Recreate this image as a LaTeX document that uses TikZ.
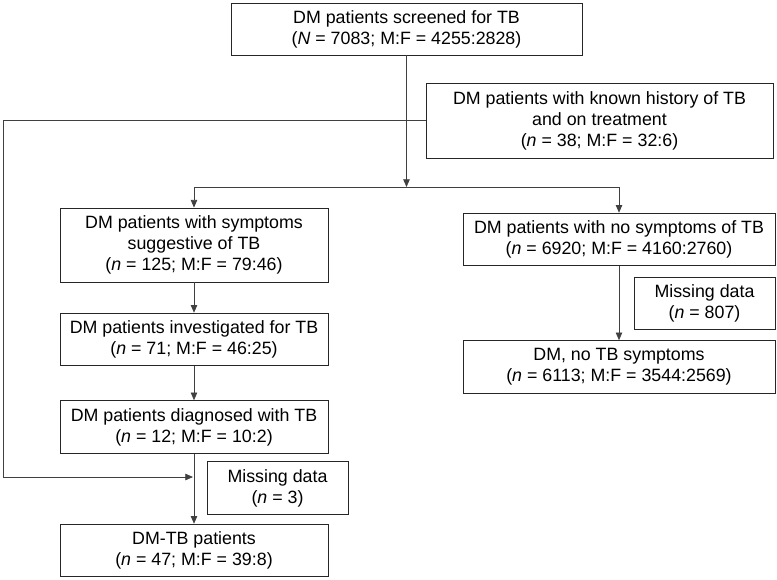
\documentclass[tikz,border=0pt]{standalone}
\usepackage{fontspec}
\setmainfont{Liberation Sans}
\usetikzlibrary{arrows.meta}

\begin{document}
\begin{tikzpicture}[
  x=0.03cm, y=-0.03cm,
  box/.style={rectangle, draw=black!85, line width=0.8pt, align=center,
              inner sep=0pt, minimum height=1.58cm,
              font=\fontsize{15.2pt}{17.9pt}\selectfont},
  wide/.style={box, minimum width=8.04cm},
  side/.style={box, minimum width=4.23cm},
  flow/.style={->, draw=black!75, line width=0.6pt},
  >={Triangle[length=6.5pt,width=5.5pt]}
]
  \useasboundingbox (0,0) rectangle (777,579);

  % Screening
  \node[box, minimum width=10.53cm, minimum height=1.56cm] (screen) at (406.5,29)
    {DM patients screened for TB\\(\textit{N} = 7083; M:F = 4255:2828)};
  \node[box, minimum width=10.41cm, minimum height=2.25cm] (known) at (599.5,120.5)
    {DM patients with known history of TB\\and on treatment\\(\textit{n} = 38; M:F = 32:6)};

  % Symptomatic branch
  \node[wide, minimum height=2.22cm] (sympt) at (194,245)
    {DM patients with symptoms\\suggestive of TB\\(\textit{n} = 125; M:F = 79:46)};
  \node[wide] (invest) at (194,339.5)
    {DM patients investigated for TB\\(\textit{n} = 71; M:F = 46:25)};
  \node[wide] (diag) at (194,427)
    {DM patients diagnosed with TB\\(\textit{n} = 12; M:F = 10:2)};
  \node[side] (missa) at (277.5,488) {Missing data\\(\textit{n} = 3)};
  \node[wide] (dmtb) at (194,550.5)
    {DM-TB patients\\(\textit{n} = 47; M:F = 39:8)};

  % No symptoms branch
  \node[box, minimum width=9.36cm] (nosym) at (619,239.5)
    {DM patients with no symptoms of TB\\(\textit{n} = 6920; M:F = 4160:2760)};
  \node[side] (missb) at (704.5,303.5) {Missing data\\(\textit{n} = 807)};
  \node[box, minimum width=9.36cm] (notb) at (619,367)
    {DM, no TB symptoms\\(\textit{n} = 6113; M:F = 3544:2569)};

  % Split
  \coordinate (split) at (406.5,187);
  \draw[flow] (screen) -- (split);
  \draw[flow] (split) -| (sympt.north);
  \draw[flow] (split) -| (nosym.north);

  % Downward arrows
  \draw[flow] (sympt) -- (invest);
  \draw[flow] (invest) -- (diag);
  \draw[flow] (diag) -- (dmtb);
  \draw[flow] (nosym) -- (notb);

  % Known TB cases join the DM-TB group
  \coordinate (fbcorner) at (3,477);
  \coordinate (fbend) at (193,477);
  \draw[flow] (known.west) -| (fbcorner) -- (fbend);
\end{tikzpicture}
\end{document}
